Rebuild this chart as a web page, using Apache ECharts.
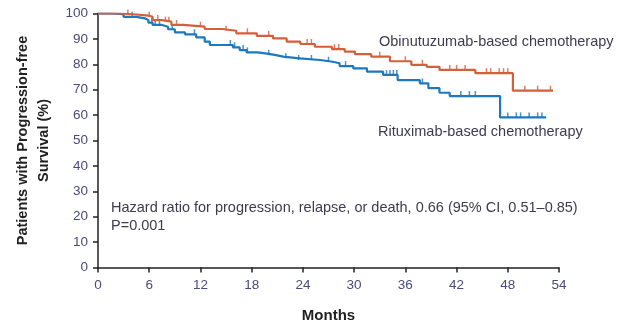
<!DOCTYPE html>
<html>
<head>
<meta charset="utf-8">
<script src="https://cdn.jsdelivr.net/npm/echarts@6/dist/echarts.min.js"></script>
<style>
html,body{margin:0;padding:0;background:#fff;}
#chart{width:618px;height:321px;}
</style>
</head>
<body>
<div id="chart"></div>
<script>
// Kaplan-Meier step data: [month, PFS % from that month onward]
const obinutuzumabCurve = [[0,100],[2.6,99.6],[4.5,99.2],[5.9,98.7],[6.4,97.4],[7.5,96.8],[8.6,95.5],[10,94.8],[12.5,93.9],[14.6,93.2],[16.2,92.2],[18.6,91.2],[20.5,90.2],[22.1,88.9],[23.7,88.0],[25.4,86.9],[27.4,86.0],[28.9,85.0],[30.1,84.0],[32,83.0],[34.2,81.2],[36.7,79.8],[38.5,79.0],[40,77.8],[44.2,76.5],[48.6,69.6],[53.3,69.6]];
const rituximabCurve = [[0,100],[1.5,99.7],[3,98.7],[4.5,98.1],[5.5,97.4],[5.9,96.4],[6.4,95.5],[7.5,94.8],[8.2,93.8],[9,92.6],[10.2,91.8],[11.5,90.6],[12.5,88.9],[13.1,87.6],[15.8,86.7],[16.6,85.6],[17.4,84.7],[18.7,84.3],[19.6,83.7],[20.7,83.0],[21.7,82.4],[23.3,81.7],[26,81.0],[27.5,80.4],[28.3,79.3],[29.9,78.4],[31.5,77.1],[33.4,75.8],[35.1,73.8],[37.7,72.5],[38.7,70.6],[40,68.8],[41.2,67.5],[47.1,59.1],[52.5,59.1]];
// censoring times (months)
const obinutuzumabCensored = [3.5,6,7,7.9,8.3,9.2,12,15,17.5,20,24.5,25,27.7,28.2,33,36,38,41.2,42,43,45.5,46,47,47.5,48,50,51.5,53];
const rituximabCensored = [4,6.3,6.7,7.2,8.7,11.3,15.5,16,17,17.5,20,22,23.5,25,27,29,33.8,34.2,34.6,35,38,42.5,43.5,44.2,48,49,49.5,50.5,51.5,52];
const xTicks = [0,6,12,18,24,30,36,42,48,54];
const yTicks = [0,10,20,30,40,50,60,70,80,90,100];
const seriesNames = ['Obinutuzumab-based chemotherapy','Rituximab-based chemotherapy'];
const hazardText = ['Hazard ratio for progression, relapse, or death, 0.66 (95% CI, 0.51\u20130.85)','P=0.001'];

function valueAt(curve, t){
  let v = curve[0][1];
  for (const p of curve){ if (p[0] <= t) v = p[1]; }
  return v;
}
const RED = '#d3603b', BLUE = '#1c78bf';
const FONT = 'Liberation Sans';
const TXT = '#3d3b50';
const chart = echarts.init(document.getElementById('chart'), null, {renderer:'canvas'});
chart.setOption({
  animation:false,
  grid:{left:98, right:59, top:13.5, bottom:53.5, containLabel:false, outerBoundsMode:'none'},
  xAxis:{type:'value', min:0, max:54, interval:6,
    axisLine:{show:true, lineStyle:{color:'#222', width:1.5}},
    axisTick:{show:true, length:5, lineStyle:{color:'#222', width:1.5}},
    axisLabel:{color:'#4a4a7e', fontFamily:FONT, fontSize:13.5, margin:11,
      formatter:v=>xTicks.includes(v)?String(v):''},
    splitLine:{show:false},
    name:'Months', nameLocation:'middle', nameGap:41,
    nameTextStyle:{fontFamily:FONT, fontWeight:'bold', fontSize:15, color:'#222'}
  },
  yAxis:{type:'value', min:0, max:100, interval:10,
    axisLine:{show:true, lineStyle:{color:'#222', width:1.5}},
    axisTick:{show:true, length:5, lineStyle:{color:'#222', width:1.5}},
    axisLabel:{color:'#4a4a7e', fontFamily:FONT, fontSize:13.5, margin:10,
      formatter:v=>yTicks.includes(v)?String(v):''},
    splitLine:{show:false},
    name:'Patients with Progression-free\nSurvival (%)', nameLocation:'middle', nameGap:43,
    nameTextStyle:{fontFamily:FONT, fontWeight:'bold', fontSize:14.5, color:'#222', lineHeight:21}
  },
  series:[
    {name:seriesNames[0], type:'line', step:'end', data:obinutuzumabCurve, symbol:'none',
     lineStyle:{color:RED, width:2.2}, z:3},
    {name:seriesNames[1], type:'line', step:'end', data:rituximabCurve, symbol:'none',
     lineStyle:{color:BLUE, width:2.2}, z:2},
    {type:'scatter', data:obinutuzumabCensored.map(t=>[t, valueAt(obinutuzumabCurve,t)]),
     symbol:'rect', symbolSize:[1.5,5], symbolOffset:[0,-2.5], itemStyle:{color:RED}, z:3},
    {type:'scatter', data:rituximabCensored.map(t=>[t, valueAt(rituximabCurve,t)]),
     symbol:'rect', symbolSize:[1.5,5], symbolOffset:[0,-2.5], itemStyle:{color:BLUE}, z:2}
  ],
  graphic:[
    {type:'text', left:379, top:34.5, style:{text:seriesNames[0], font:'14.5px '+FONT, fill:TXT}},
    {type:'text', left:378, top:124, style:{text:seriesNames[1], font:'14.5px '+FONT, fill:TXT}},
    {type:'text', left:111, top:200, style:{text:hazardText[0], font:'14.5px '+FONT, fill:TXT}},
    {type:'text', left:111, top:218.5, style:{text:hazardText[1], font:'14.5px '+FONT, fill:TXT}}
  ]
});
</script>
</body>
</html>
